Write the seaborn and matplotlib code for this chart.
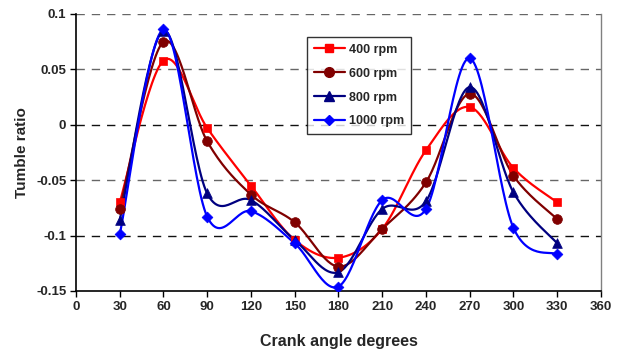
import numpy as np
import pandas as pd
import matplotlib
matplotlib.use('Agg')
import matplotlib.pyplot as plt
from matplotlib.lines import Line2D
import seaborn as sns

# Data
crank_angle = [30, 60, 90, 120, 150, 180, 210, 240, 270, 300, 330]
rpm_400 = [-0.070, 0.058, -0.003, -0.055, -0.104, -0.120, -0.094, -0.023, 0.016, -0.039, -0.070]
rpm_600 = [-0.076, 0.075, -0.015, -0.063, -0.088, -0.128, -0.094, -0.052, 0.028, -0.046, -0.085]
rpm_800 = [-0.086, 0.085, -0.062, -0.068, -0.104, -0.133, -0.076, -0.069, 0.034, -0.061, -0.107]
rpm_1000 = [-0.099, 0.086, -0.083, -0.078, -0.107, -0.146, -0.068, -0.076, 0.060, -0.093, -0.117]

series = {
    '400 rpm': (rpm_400, '#FF0000', 's', 6),
    '600 rpm': (rpm_600, '#800000', 'o', 7),
    '800 rpm': (rpm_800, '#000080', '^', 7),
    '1000 rpm': (rpm_1000, '#0000FF', 'D', 5.5),
}


def smooth_line(x, y, n=30):
    # Excel-like smoothed line: cubic Bezier with Catmull-Rom control points
    x = np.asarray(x, float)
    y = np.asarray(y, float)
    px = np.concatenate([[x[0]], x, [x[-1]]])
    py = np.concatenate([[y[0]], y, [y[-1]]])
    xs, ys = [], []
    t = np.linspace(0, 1, n)
    for i in range(1, len(px) - 2):
        p0 = np.array([px[i], py[i]])
        p3 = np.array([px[i + 1], py[i + 1]])
        c1 = p0 + (np.array([px[i + 1], py[i + 1]]) - np.array([px[i - 1], py[i - 1]])) / 6
        c2 = p3 - (np.array([px[i + 2], py[i + 2]]) - p0) / 6
        pts = ((1 - t)[:, None] ** 3 * p0 + 3 * ((1 - t) ** 2 * t)[:, None] * c1
               + 3 * ((1 - t) * t ** 2)[:, None] * c2 + (t ** 3)[:, None] * p3)
        xs.extend(pts[:, 0])
        ys.extend(pts[:, 1])
    return np.array(xs), np.array(ys)


sns.set_style("white")
plt.rcParams['font.family'] = ['Liberation Sans', 'DejaVu Sans']

fig = plt.figure(figsize=(6.24, 3.54), dpi=100)
ax = fig.add_axes([0.1218, 0.178, 0.8412, 0.7825])

handles = []
for name, (vals, color, marker, ms) in series.items():
    sx, sy = smooth_line(crank_angle, vals)
    sns.lineplot(x=sx, y=sy, ax=ax, color=color, linewidth=1.6, sort=False,
                 estimator=None, zorder=3)
    sns.scatterplot(x=crank_angle, y=vals, ax=ax, color=color, marker=marker,
                    s=ms ** 2, edgecolor=color, linewidth=0.5, zorder=4)
    handles.append(Line2D([], [], color=color, marker=marker, markersize=ms,
                          linewidth=1.6, label=name))

ax.set_xlim(0, 360)
ax.set_ylim(-0.15, 0.1)
ax.set_xticks(range(0, 361, 30))
ax.set_yticks([-0.15, -0.1, -0.05, 0, 0.05, 0.1])
ax.set_yticklabels(['-0.15', '-0.1', '-0.05', '0', '0.05', '0.1'])

# dashed gridlines (alternate shades like the original export)
grid_shade = {0.1: '#666666', 0.05: '#666666', 0: '#111111', -0.05: '#666666', -0.1: '#111111'}
for yv, c in grid_shade.items():
    ax.axhline(yv, color=c, linewidth=1.0, linestyle=(0, (6, 5)), zorder=1)

for side in ['left', 'bottom']:
    ax.spines[side].set_color('black')
    ax.spines[side].set_linewidth(1.2)
ax.spines['top'].set_visible(False)
ax.spines['right'].set_color('#808080')
ax.spines['right'].set_linewidth(1.0)

ax.tick_params(axis='both', direction='out', length=4, width=1, color='black',
               labelsize=9.5, pad=3, bottom=True, left=True)
for lab in ax.get_xticklabels() + ax.get_yticklabels():
    lab.set_fontweight('bold')

ax.set_xlabel('Crank angle degrees', fontsize=11.5, fontweight='bold', labelpad=15)
ax.set_ylabel('Tumble ratio', fontsize=11, fontweight='bold', labelpad=5)

leg = ax.legend(handles=handles, loc='upper left', bbox_to_anchor=(0.44, 0.917),
                borderaxespad=0, frameon=True, fancybox=False, edgecolor='black',
                prop={'weight': 'bold', 'size': 9}, handlelength=2.5,
                labelspacing=0.95, borderpad=0.55, handletextpad=0.35)
leg.get_frame().set_linewidth(1.0)

fig.savefig('out.png', dpi=100)
